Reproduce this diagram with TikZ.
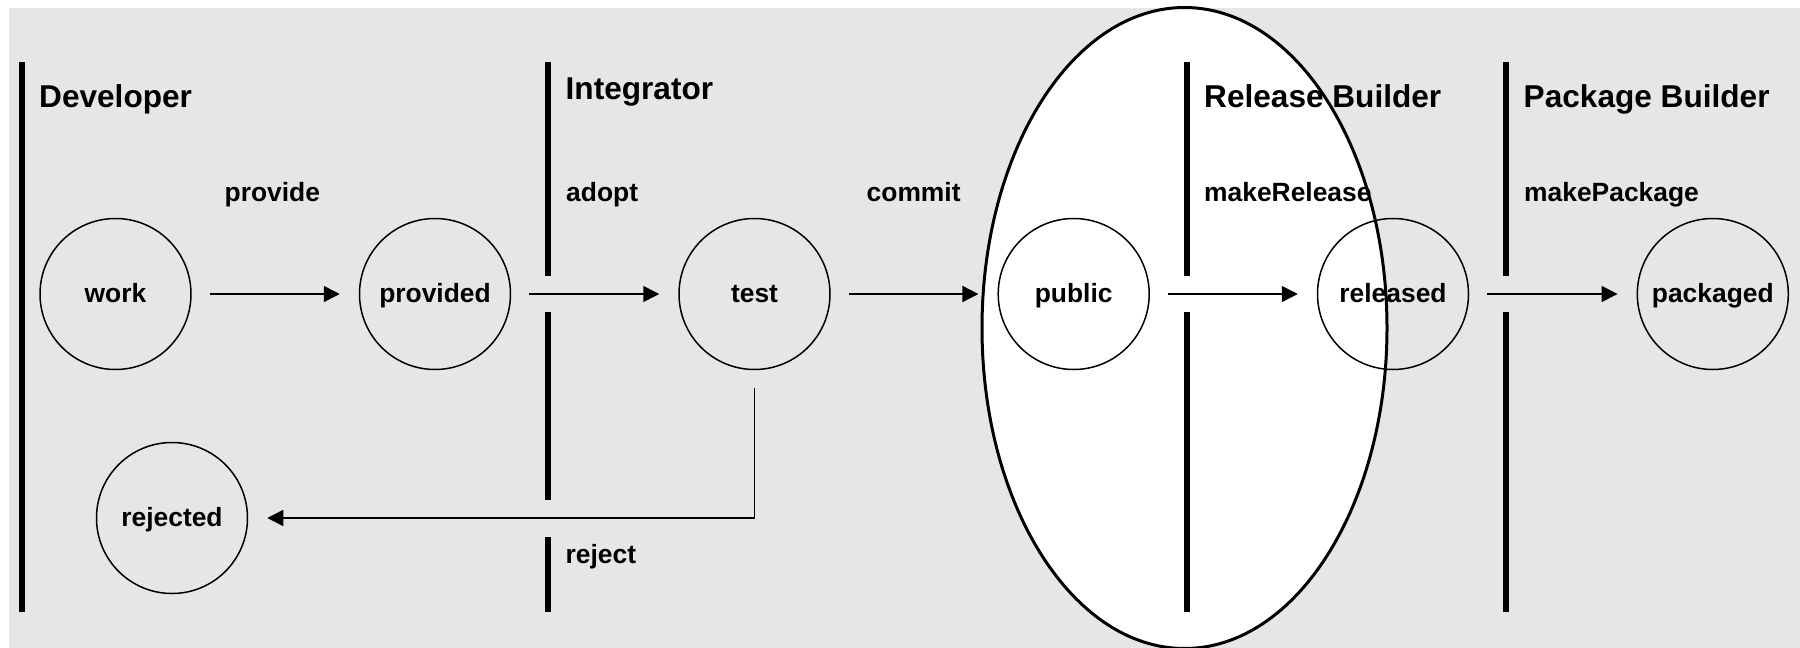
\documentclass[tikz,border=0pt]{standalone}
\usepackage{fontspec}
\setmainfont{Liberation Sans}
\usetikzlibrary{arrows.meta,shapes.geometric}
\definecolor{bggray}{RGB}{230,230,230}
\newcommand\hdfont{\bfseries\fontsize{31.6}{36}\selectfont}
\newcommand\lbfont{\bfseries\fontsize{26.4}{30}\selectfont}
\tikzset{
  stnode/.style={circle, draw, line width=1.5pt, minimum size=151pt, inner sep=0pt,
                 text height=16pt, text depth=0pt, font=\lbfont},
  flow/.style={line width=1.5pt, -{Triangle[length=16pt,width=16pt]},
               shorten <=18pt, shorten >=19pt},
  lane/.style={line width=6pt, line cap=butt},
  head/.style={anchor=base west, inner sep=0pt, font=\hdfont},
  lbl/.style={anchor=base west, inner sep=0pt, font=\lbfont},
  zonestyle/.style={ellipse, draw, fill=white, line width=3pt,
                    minimum width=405pt, minimum height=641pt, inner sep=0pt}
}
\begin{document}
\begin{tikzpicture}[x=1pt,y=-1pt]
\useasboundingbox (0,0) rectangle (1800,648);
\fill[white] (0,0) rectangle (1800,648);
\fill[bggray] (9,8) rectangle (1800,648);
% big ellipse
\node[zonestyle] (zone) at (1184.5,328) {};
% lane bars
\draw[lane] (22,62) -- (22,612);
\draw[lane] (548,62) -- (548,276);
\draw[lane] (548,312) -- (548,500);
\draw[lane] (548,537) -- (548,612);
\draw[lane] (1187,62) -- (1187,276);
\draw[lane] (1187,312) -- (1187,612);
\draw[lane] (1506,62) -- (1506,276);
\draw[lane] (1506,312) -- (1506,612);
% headings
\node[head] (hdev) at (39,107) {Developer};
\node[head] (hint) at (565.5,99) {Integrator};
\node[head] (hrel) at (1204,107) {Release Builder};
\node[head] (hpkg) at (1523.5,107) {Package Builder};
% action labels
\node[lbl] (lprovide) at (224.5,201) {provide};
\node[lbl] (ladopt) at (566,201) {adopt};
\node[lbl] (lcommit) at (866.5,201) {commit};
\node[lbl] (lmakerel) at (1204,201) {makeRelease};
\node[lbl] (lmakepkg) at (1524,201) {makePackage};
\node[lbl] (lreject) at (565.5,563) {reject};
% states
\node[stnode] (work) at (115.5,294) {work};
\node[stnode] (provided) at (435,294) {provided};
\node[stnode] (test) at (754.5,294) {test};
\node[stnode] (public) at (1073.7,294) {public};
\node[stnode] (released) at (1393,294) {released};
\node[stnode] (packaged) at (1712.8,294) {packaged};
\node[stnode] (rejected) at (172,518) {rejected};
% transitions
\draw[flow] (work) -- (provided);
\draw[flow] (provided) -- (test);
\draw[flow] (test) -- (public);
\draw[flow] (public) -- (released);
\draw[flow] (released) -- (packaged);
\draw[flow] (test.south) |- (rejected.east);
\end{tikzpicture}
\end{document}
